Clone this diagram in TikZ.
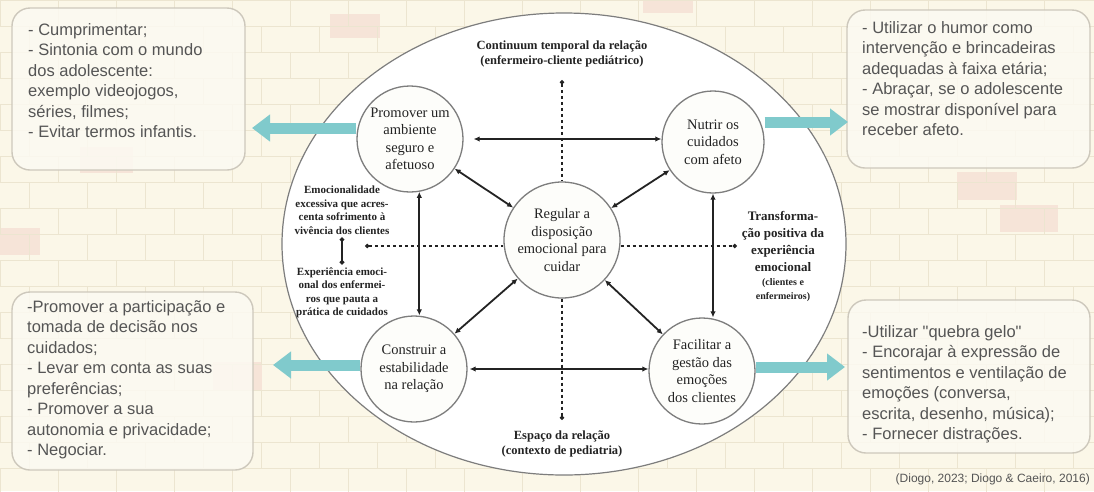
\documentclass[tikz,border=0pt]{standalone}
\usepackage{fontspec}
\setmainfont{Liberation Serif}
\newfontfamily\boxfont{Liberation Sans}
\usetikzlibrary{arrows.meta}

\definecolor{bg}{RGB}{251,247,232}
\definecolor{brick}{RGB}{236,229,208}
\definecolor{pinkbrick}{RGB}{246,228,216}
\definecolor{boxline}{RGB}{205,200,188}
\definecolor{boxfill}{RGB}{252,250,242}
\definecolor{boxtext}{RGB}{85,85,85}
\definecolor{tealarrow}{RGB}{128,202,204}
\definecolor{ink}{RGB}{35,35,35}
\definecolor{ringline}{RGB}{125,125,125}
\definecolor{ringfill}{RGB}{253,253,250}

\begin{document}
\begin{tikzpicture}[x=1pt,y=-1pt,
  sidebox/.style={draw=boxline,line width=1.4pt,fill=boxfill,fill opacity=0.85,rounded corners=18pt},
  sidetext/.style={anchor=north west,align=left,inner sep=0pt,text=boxtext,font=\boxfont\fontsize{16.5}{20.5}\selectfont},
  ring/.style={circle,draw=ringline,line width=1.3pt,fill=ringfill,inner sep=0pt,align=center,text=ink,font=\fontsize{14.5}{17.5}\selectfont},
  lab/.style={align=center,text=ink,inner sep=0pt,font=\bfseries\fontsize{12.5}{15}\selectfont},
  smalllab/.style={align=center,text=ink,inner sep=3pt,font=\bfseries\fontsize{11}{13.5}\selectfont},
  link/.style={draw=ink,line width=1.8pt,{Latex[length=6pt,width=5.5pt]}-{Latex[length=6pt,width=5.5pt]}},
  dline/.style={draw=ink,line width=1.1pt,dash pattern=on 3pt off 3pt},
  fat/.style={draw=tealarrow,line width=11pt,-{Triangle[width=26pt,length=18pt]}}
]
\useasboundingbox (0,0) rectangle (1094,491);
% background bricks
\fill[bg] (0,0) rectangle (1094,491);
\fill[pinkbrick] (80,147) rectangle (133,173);
\fill[pinkbrick] (330,14) rectangle (380,38);
\fill[pinkbrick] (643,0) rectangle (693,13);
\fill[pinkbrick] (957,172) rectangle (1017,200);
\fill[pinkbrick] (213,362) rectangle (262,390);
\fill[pinkbrick] (0,228) rectangle (40,255);
\fill[pinkbrick] (1000,205) rectangle (1058,232);
\foreach \r in {0,...,19} {
  \draw[brick,line width=1pt] (0,\r*26) -- (1094,\r*26);
  \foreach \k in {0,...,19} {
    \pgfmathsetmacro\xx{\k*58+mod(\r,2)*29}
    \draw[brick,line width=1pt] (\xx,\r*26) -- (\xx,\r*26+26);
  }
}

% side boxes
\draw[sidebox] (12,8) rectangle (245,170);
\draw[sidebox] (847,10) rectangle (1090,168);
\draw[sidebox] (12,292) rectangle (253,470);
\draw[sidebox] (848,300) rectangle (1090,453);

\node[sidetext] (tltext) at (28,23) {- Cumprimentar;\\- Sintonia com o mundo\\dos adolescente:\\exemplo videojogos,\\séries, filmes;\\- Evitar termos infantis.};
\node[sidetext] (trtext) at (862,21) {- Utilizar o humor como\\intervenção e brincadeiras\\adequadas à faixa etária;\\- Abraçar, se o adolescente\\se mostrar disponível para\\receber afeto.};
\node[sidetext] (bltext) at (27,300) {-Promover a participação e\\tomada de decisão nos\\cuidados;\\- Levar em conta as suas\\preferências;\\- Promover a sua\\autonomia e privacidade;\\- Negociar.};
\node[sidetext] (brtext) at (862,325) {-Utilizar "quebra gelo"\\- Encorajar à expressão de\\sentimentos e ventilação de\\emoções (conversa,\\escrita, desenho, música);\\- Fornecer distrações.};

\node[anchor=east,inner sep=0pt,text=boxtext,font=\boxfont\fontsize{12}{14}\selectfont] (cite) at (1090,479) {(Diogo, 2023; Diogo \& Caeiro, 2016)};

% big ellipse
\draw[draw=ringline,fill=white,line width=1.2pt] (564,244) ellipse [x radius=282pt, y radius=231pt];

% coordinates
\coordinate (topdot) at (562,80);
\coordinate (botdot) at (562,420);
\coordinate (ldot) at (365,246);
\coordinate (rdot) at (737,246);
\coordinate (tlarrow) at (252,128);
\coordinate (trarrow) at (848,122);
\coordinate (blarrow) at (273,365);
\coordinate (brarrow) at (845,367);

% circles
\node[ring,minimum size=106pt] (tl) at (410,139) {Promover um\\ambiente\\seguro e\\afetuoso};
\node[ring,minimum size=102pt] (tr) at (713,142) {Nutrir os\\cuidados\\com afeto};
\node[ring,minimum size=116pt] (c) at (562,240) {Regular a\\disposição\\emocional para\\cuidar};
\node[ring,minimum size=106pt] (bl) at (414,369) {Construir a\\estabilidade\\na relação};
\node[ring,minimum size=106pt] (br) at (702,371) {Facilitar a\\gestão das\\emoções\\dos clientes};

% teal arrows
\draw[fat] (tl.west |- tlarrow) -- (tlarrow);
\draw[fat] (tr.east |- trarrow) -- (trarrow);
\draw[fat] (bl.west |- blarrow) -- (blarrow);
\draw[fat] (br.east |- brarrow) -- (brarrow);

% labels
\node[lab] (toplab) at (562,54) {Continuum temporal da relação\\(enfermeiro-cliente pediátrico)};
\node[lab] (botlab) at (562,444) {Espaço da relação\\(contexto de pediatria)};
\node[smalllab] (emo1) at (342,210) {Emocionalidade\\excessiva que acres-\\centa sofrimento à\\vivência dos clientes};
\node[smalllab] (emo2) at (342,293) {Experiência emoci-\\onal dos enfermei-\\ros que pauta a\\prática de cuidados};
\node[lab,font=\bfseries\fontsize{13}{17}\selectfont] (rlab1) at (783,241) {Transforma-\\ção positiva da\\experiência\\emocional};
\node[lab,font=\bfseries\fontsize{10}{14}\selectfont] (rlab2) at (783,290) {(clientes e\\enfermeiros)};

% dashed axes
\draw[dline,{Circle[length=4.5pt]}-] (topdot) -- (c.north);
\draw[dline,-{Circle[length=4.5pt]}] (c.south) -- (botdot);
\draw[dline,{Circle[length=4.5pt]}-] (ldot) -- (ldot -| c.west);
\draw[dline,-{Circle[length=4.5pt]}] (rdot -| c.east) -- (rdot);
\draw[draw=ink,line width=1.3pt,{Circle[length=4.5pt]}-{Circle[length=4.5pt]}] (emo1.south) -- (emo2.north);

% solid links
\draw[link,shorten <=10pt] (tl.east) -- (tl.east -| tr.west);
\draw[link,shorten <=2pt] (bl.east) -- (bl.east -| br.west);
\draw[link] (tl.-80) -- (tl.-80 |- bl.north);
\draw[link] (tr.south) -- (tr.south |- br.north);
\draw[link] (tl) -- (c);
\draw[link] (tr) -- (c);
\draw[link] (bl) -- (c);
\draw[link] (br) -- (c);
\end{tikzpicture}
\end{document}
